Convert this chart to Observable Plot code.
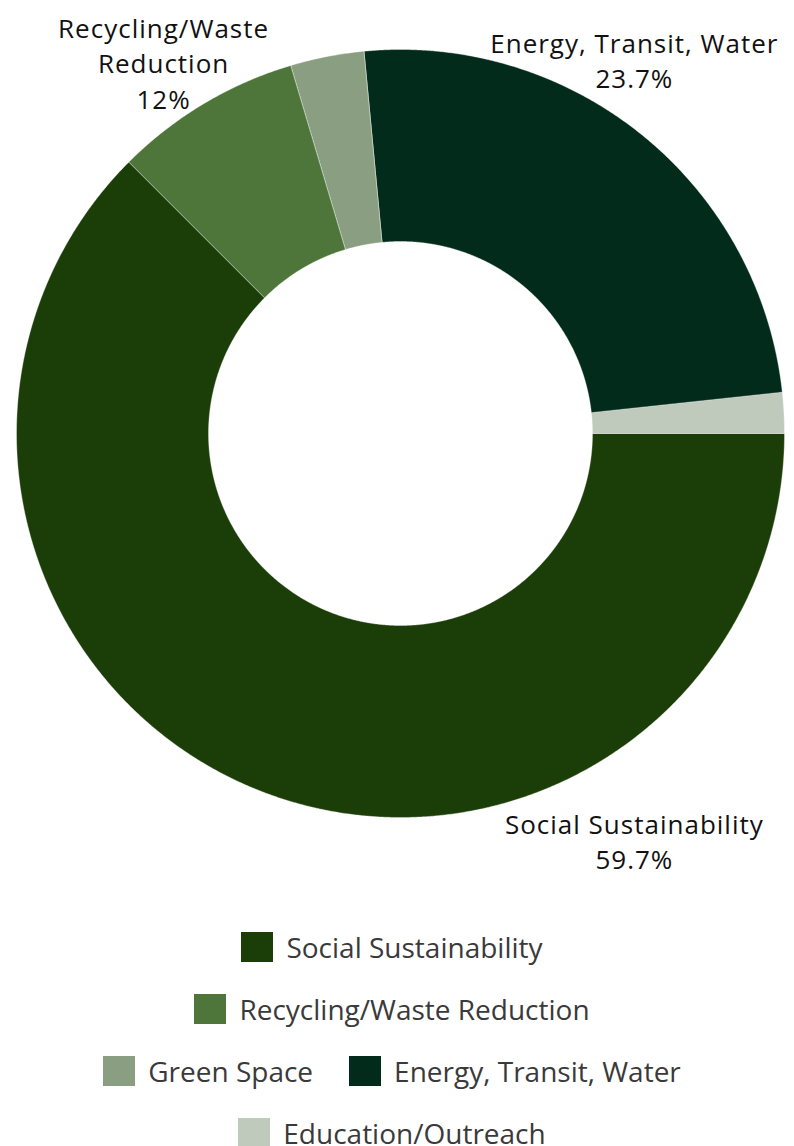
<!DOCTYPE html>
<html>
<head>
<meta charset="utf-8">
<script src="https://cdn.jsdelivr.net/npm/d3@7"></script>
<script src="https://cdn.jsdelivr.net/npm/@observablehq/plot@0.6"></script>
<style>
  html, body { margin: 0; padding: 0; background: #fff; }
  #chart { width: 794px; }
  #legend {
    width: 620px; margin: 0 auto; padding-top: 32px; position: relative; left: -5px;
    display: flex; flex-wrap: wrap; justify-content: center;
    column-gap: 36px; row-gap: 32px;
    font-family: "Open Sans", sans-serif; font-size: 28px; line-height: 30px; color: #3a3a3a;
  }
  .item { display: flex; align-items: center; height: 30px; }
  .sw { width: 32px; height: 30px; margin-right: 13px; flex: none; }
</style>
</head>
<body>
<div id="chart"></div>
<div id="legend"></div>
<script>
// ---- data ----
const categories = ["Social Sustainability", "Recycling/Waste Reduction", "Green Space", "Energy, Transit, Water", "Education/Outreach"];
const shares = [62.5, 7.9, 3.1, 24.8, 1.7];          // share of the ring
const colors = ["#1b3d07", "#4e763b", "#8a9e82", "#022b1b", "#bfc9bc"];
const labelNames = ["Social Sustainability", "Recycling/Waste\nReduction", "Energy, Transit, Water"];
const labelValues = ["59.7%", "12%", "23.7%"];

// ---- layout (annotation placement, unit-circle coordinates) ----
const labelX = [0.609, -0.617, 0.609];
const labelY = [-0.979, 1.094, 1.055];
const innerR = 0.5;

const arcs = d3.pie().sort(null).value((d, i) => shares[i])
  .startAngle(Math.PI / 2).endAngle(Math.PI / 2 + 2 * Math.PI)(categories);

const ring = [];
for (const a of arcs) {
  const n = Math.max(2, Math.ceil((a.endAngle - a.startAngle) / (Math.PI / 720)));
  for (let k = 0; k <= n; k++) {
    const t = a.startAngle + (a.endAngle - a.startAngle) * k / n;
    ring.push({name: a.data, x: Math.sin(t), y: Math.cos(t)});
  }
  for (let k = n; k >= 0; k--) {
    const t = a.startAngle + (a.endAngle - a.startAngle) * k / n;
    ring.push({name: a.data, x: innerR * Math.sin(t), y: innerR * Math.cos(t)});
  }
}

const labels = labelNames.map((s, i) => ({text: s + "\n" + labelValues[i], x: labelX[i], y: labelY[i]}));

const chart = Plot.plot({
  width: 794,
  height: 900,
  marginLeft: 16,
  marginRight: 10,
  marginTop: 49,
  marginBottom: 83,
  x: {domain: [-1, 1], axis: null},
  y: {domain: [-1, 1], axis: null},
  color: {domain: categories, range: colors},
  style: {fontFamily: "'Open Sans', sans-serif", overflow: "visible", letterSpacing: "1px"},
  marks: [
    Plot.line(ring, {x: "x", y: "y", z: "name", fill: "name", stroke: "#ffffff", strokeWidth: 0.6, strokeOpacity: 0.6, curve: "linear-closed"}),
    Plot.text(labels, {x: "x", y: "y", text: "text", lineAnchor: "top", fontSize: 26, lineHeight: 1.35, fill: "#111", textAnchor: "middle"})
  ]
});
document.getElementById("chart").appendChild(chart);

const legend = document.getElementById("legend");
categories.forEach((c, i) => {
  const item = document.createElement("div");
  item.className = "item";
  const sw = document.createElement("span");
  sw.className = "sw";
  sw.style.background = chart.scale("color").apply(c);
  const lab = document.createElement("span");
  lab.textContent = c;
  item.appendChild(sw); item.appendChild(lab);
  legend.appendChild(item);
});
</script>
</body>
</html>
